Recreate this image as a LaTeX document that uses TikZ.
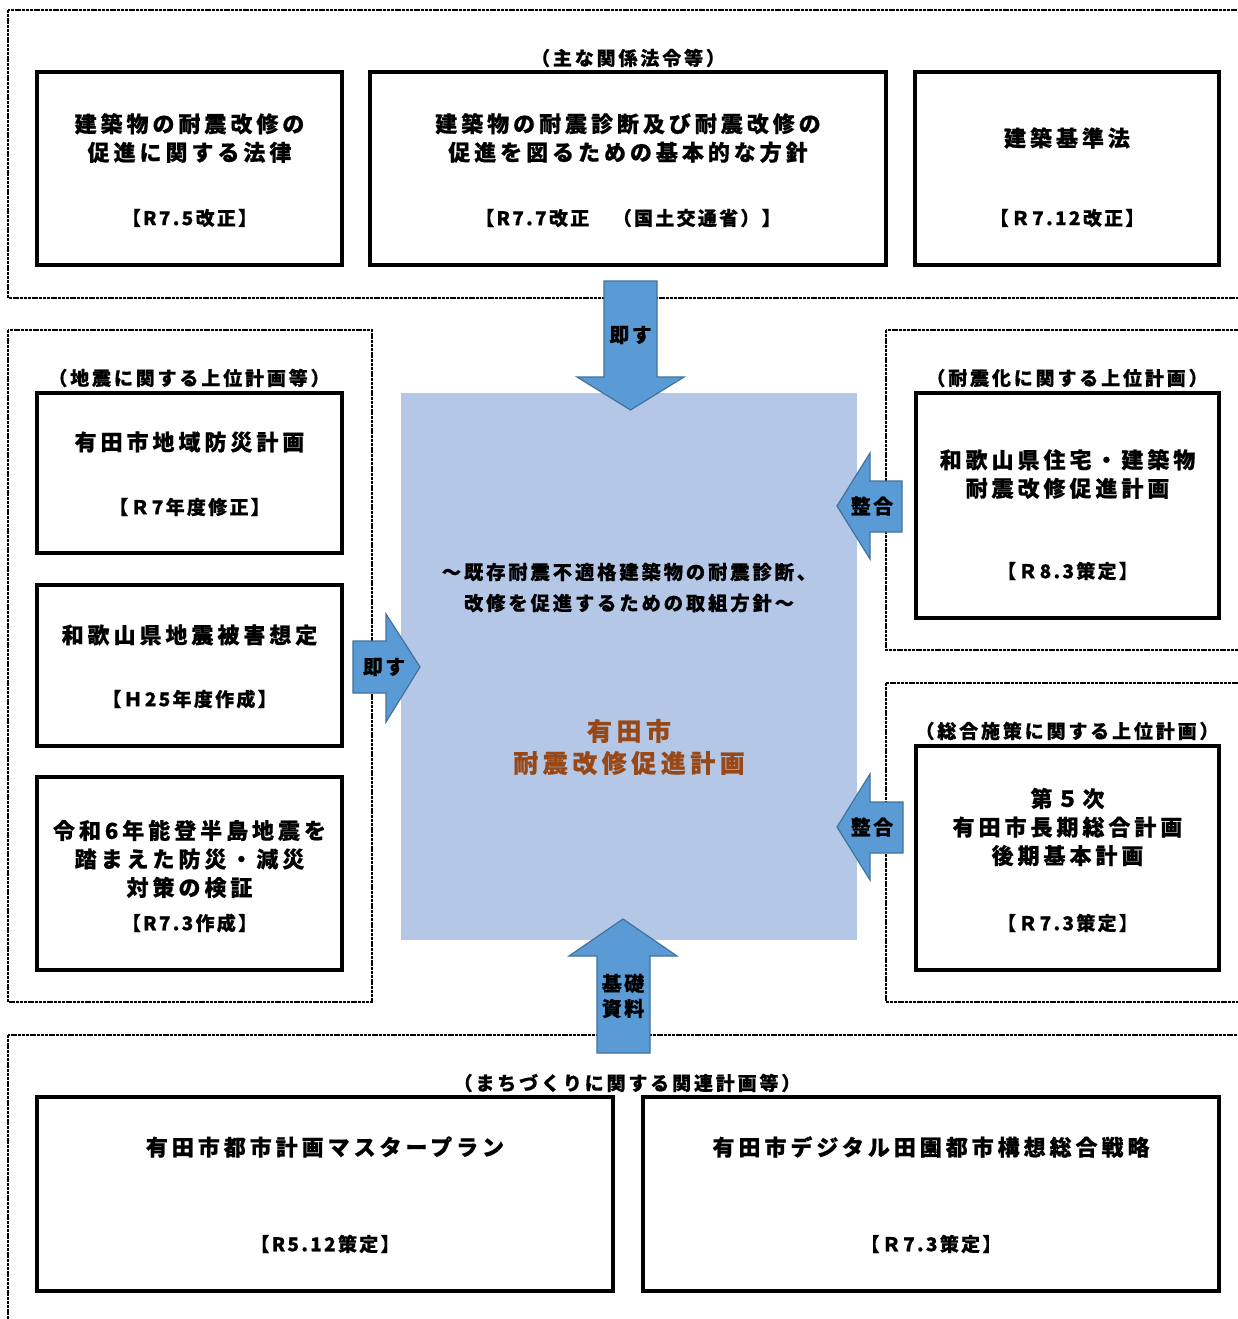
\documentclass[tikz,border=0pt]{standalone}
\usepackage{fontspec}
\newfontfamily\jpT{Noto Sans CJK JP}[LetterSpace=18, BoldFeatures={FakeBold=0.6}]
\newfontfamily\jpH{Noto Sans CJK JP}[LetterSpace=15, BoldFeatures={FakeBold=0.6}]
\newfontfamily\jpN{Noto Sans CJK JP}[LetterSpace=12, BoldFeatures={FakeBold=0.6}]
\definecolor{arrfill}{HTML}{5B9BD5}
\definecolor{arrline}{HTML}{41719C}
\definecolor{centerfill}{HTML}{B4C7E7}
\definecolor{brown}{RGB}{152,72,22}
\tikzset{
  grp/.style={draw=black, line width=1.8pt, dash pattern=on 3pt off 0.8pt},
  bx/.style={draw=black, line width=3.5pt, fill=white, inner sep=0pt},
  ttl/.style={align=center, inner sep=0pt, font={\jpT\bfseries\fontsize{22}{28.5}\selectfont}},
  hdr/.style={align=center, inner sep=0pt, font={\jpH\bfseries\fontsize{19}{22}\selectfont}},
  brk/.style={align=center, inner sep=0pt, font={\jpN\bfseries\fontsize{19}{22}\selectfont}},
  ctr/.style={align=center, inner sep=0pt, font={\jpH\bfseries\fontsize{19.3}{31}\selectfont}},
  main/.style={align=center, inner sep=0pt, text=brown, font={\jpT\bfseries\fontsize{25}{32}\selectfont}},
  blk/.style={fill=arrfill, draw=arrline, line width=1.2pt, line join=miter},
  alab/.style={align=center, inner sep=0pt, font={\jpN\bfseries\fontsize{20}{25}\selectfont}},
}
\begin{document}
\begin{tikzpicture}[x=1pt,y=-1pt]
\useasboundingbox (0,0) rectangle (1238,1319);
\fill[white] (0,0) rectangle (1238,1319);
\clip (0,0) rectangle (1238,1319);

% dashed group frames
\draw[grp] (8,10) rectangle (1260,298);
\draw[grp] (8,330) rectangle (372,1002);
\draw[grp] (886,330) rectangle (1260,650);
\draw[grp] (886,683) rectangle (1260,1002);
\draw[grp] (8,1035) rectangle (1260,1340);

% group headers
\node[hdr] (h1) at (628,58) {（主な関係法令等）};
\node[hdr] (h2) at (189,378) {（地震に関する上位計画等）};
\node[hdr] (h3) at (1067,378) {（耐震化に関する上位計画）};
\node[hdr] (h4) at (1067,731) {（総合施策に関する上位計画）};
\node[hdr] (h5) at (627,1083) {（まちづくりに関する関連計画等）};

% top boxes
\node[bx, minimum width=305, minimum height=193] (b1) at (189.5,168.5) {};
\node[bx, minimum width=516, minimum height=193] (b2) at (628,168.5) {};
\node[bx, minimum width=304, minimum height=193] (b3) at (1067,168.5) {};
\node[ttl] (b1t) at (189.5,138) {建築物の耐震改修の\\促進に関する法律};
\node[brk] (b1r) at (189.5,218) {【R7.5改正】};
\node[ttl] (b2t) at (628,138) {建築物の耐震診断及び耐震改修の\\促進を図るための基本的な方針};
\node[brk] (b2r) at (628,218) {【R7.7改正　（国土交通省）】};
\node[ttl] (b3t) at (1067,138) {建築基準法};
\node[brk] (b3r) at (1067,218) {【Ｒ7.12改正】};

% left boxes
\node[bx, minimum width=305, minimum height=160] (l1) at (189.5,473) {};
\node[bx, minimum width=305, minimum height=161] (l2) at (189.5,665.5) {};
\node[bx, minimum width=305, minimum height=193] (l3) at (189.5,873.5) {};
\node[ttl] (l1t) at (189.5,442) {有田市地域防災計画};
\node[brk] (l1r) at (189.5,507) {【Ｒ7年度修正】};
\node[ttl] (l2t) at (189.5,635) {和歌山県地震被害想定};
\node[brk] (l2r) at (189.5,699) {【Ｈ25年度作成】};
\node[ttl] (l3t) at (189.5,859) {令和6年能登半島地震を\\踏まえた防災・減災\\対策の検証};
\node[brk] (l3r) at (189.5,923) {【R7.3作成】};

% right boxes
\node[bx, minimum width=303, minimum height=225] (r1) at (1067.5,505.5) {};
\node[bx, minimum width=303, minimum height=224] (r2) at (1067.5,858) {};
\node[ttl] (r1t) at (1067.5,474) {和歌山県住宅・建築物\\耐震改修促進計画};
\node[brk] (r1r) at (1067.5,571) {【Ｒ8.3策定】};
\node[ttl] (r2t) at (1067.5,827) {第５次\\有田市長期総合計画\\後期基本計画};
\node[brk] (r2r) at (1067.5,923) {【Ｒ7.3策定】};

% bottom boxes
\node[bx, minimum width=576, minimum height=194] (d1) at (325,1194) {};
\node[bx, minimum width=576, minimum height=194] (d2) at (931,1194) {};
\node[ttl] (d1t) at (325,1147) {有田市都市計画マスタープラン};
\node[brk] (d1r) at (325,1244) {【R5.12策定】};
\node[ttl] (d2t) at (931,1147) {有田市デジタル田園都市構想総合戦略};
\node[brk] (d2r) at (931,1244) {【Ｒ7.3策定】};

% central plan
\node[fill=centerfill, draw=none, minimum width=456, minimum height=547, inner sep=0pt] (c) at (629,666.5) {};
\node[ctr] (ct) at (629,587.5) {～既存耐震不適格建築物の耐震診断、\\改修を促進するための取組方針～};
\node[main] (cm) at (629,747) {有田市\\耐震改修促進計画};

% block arrows
\draw[blk] (604,281) -- (657,281) -- (657,377) -- (684,377) -- (630.5,410) -- (577,377) -- (604,377) -- cycle;
\node[alab] (a1) at (630.5,335) {即す};
\draw[blk] (353,641) -- (386,641) -- (386,614) -- (420,667) -- (386,722) -- (386,693) -- (353,693) -- cycle;
\node[alab] (a2) at (384,667) {即す};
\draw[blk] (902,481) -- (870,481) -- (870,453) -- (837,506) -- (870,559) -- (870,532) -- (902,532) -- cycle;
\node[alab] (a3) at (872,506) {整合};
\draw[blk] (903,802) -- (870,802) -- (870,774) -- (837,827) -- (870,880) -- (870,853) -- (903,853) -- cycle;
\node[alab] (a4) at (872,827) {整合};
\draw[blk] (597,1053) -- (650,1053) -- (650,956) -- (677,956) -- (623,919) -- (569,956) -- (597,956) -- cycle;
\node[alab] (a5) at (623,996) {基礎\\資料};
\end{tikzpicture}
\end{document}
